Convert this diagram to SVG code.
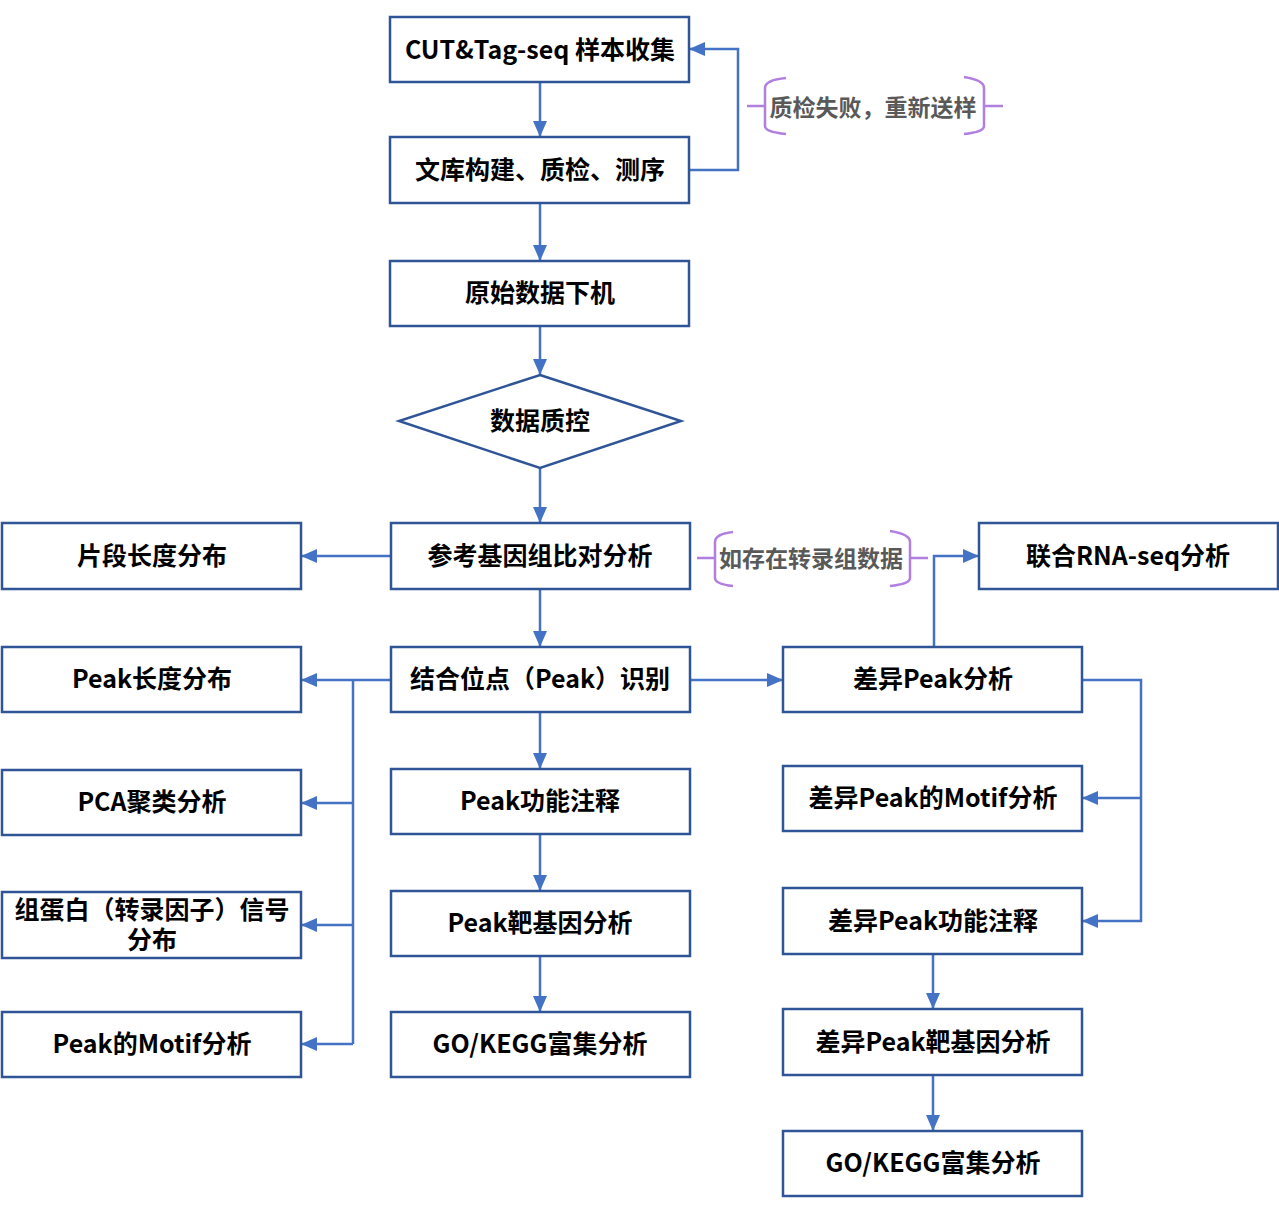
<svg xmlns="http://www.w3.org/2000/svg" width="1279" height="1213" viewBox="0 0 1279 1213">
<style>
.box{fill:#fff;stroke:#2F5597;stroke-width:2.5}
.t{font-family:"Noto Sans CJK SC","Noto Sans",sans-serif;font-weight:bold;font-size:25px;fill:#000;text-anchor:middle;dominant-baseline:central}
.c{fill:none;stroke:#4472C4;stroke-width:2.5}
.b{fill:none;stroke:#B07FE0;stroke-width:2.5}
.a{font-family:"Noto Sans CJK SC","Noto Sans",sans-serif;font-weight:bold;font-size:23px;fill:#595959;text-anchor:middle;dominant-baseline:central}
</style>
<defs>
<marker id="ar" markerWidth="16" markerHeight="14" refX="15" refY="7" orient="auto" markerUnits="userSpaceOnUse">
<path d="M0,0 L16,7 L0,14 Z" fill="#4472C4"/>
</marker>
</defs>
<rect width="1279" height="1213" fill="#fff"/>
<g id="connectors">
<path class="c" d="M540,82 V136" marker-end="url(#ar)"/>
<path class="c" d="M689,170 H738 V49 H690" marker-end="url(#ar)"/>
<path class="c" d="M540,203 V260" marker-end="url(#ar)"/>
<path class="c" d="M540,326 V374" marker-end="url(#ar)"/>
<path class="c" d="M540,468 V522" marker-end="url(#ar)"/>
<path class="c" d="M391,556 H302" marker-end="url(#ar)"/>
<path class="c" d="M540,589 V646" marker-end="url(#ar)"/>
<path class="c" d="M690,680 H782" marker-end="url(#ar)"/>
<path class="c" d="M934,647 V556 H978" marker-end="url(#ar)"/>
<path class="c" d="M391,680 H302" marker-end="url(#ar)"/>
<path class="c" d="M353,680 V1044"/>
<path class="c" d="M353,803 H302" marker-end="url(#ar)"/>
<path class="c" d="M353,925 H302" marker-end="url(#ar)"/>
<path class="c" d="M353,1044 H302" marker-end="url(#ar)"/>
<path class="c" d="M540,712 V768" marker-end="url(#ar)"/>
<path class="c" d="M540,834 V890" marker-end="url(#ar)"/>
<path class="c" d="M540,956 V1011" marker-end="url(#ar)"/>
<path class="c" d="M1082,680 H1141 V921 H1083" marker-end="url(#ar)"/>
<path class="c" d="M1141,798 H1083" marker-end="url(#ar)"/>
<path class="c" d="M933,954 V1008" marker-end="url(#ar)"/>
<path class="c" d="M933,1075 V1130" marker-end="url(#ar)"/>
</g>
<g id="note1">
<path class="b" d="M747,106 H765 M786,78 Q765,80 765,88 V126 Q765,132 786,134 M964,77 Q984,80 984,88 V126 Q984,132 964,134 M984,106 H1003"/>
<text class="a" x="873" y="106">质检失败，重新送样</text>
</g>
<g id="note2">
<path class="b" d="M697,558 H715 M733,532 Q715,534 715,542 V578 Q715,584 733,586 M890,531 Q910,534 910,542 V578 Q910,584 890,586 M910,558 H928"/>
<text class="a" x="811" y="557">如存在转录组数据</text>
</g>
<g id="n1"><rect class="box" x="390" y="17" width="299" height="65"/><text class="t" x="540" y="47.5">CUT&amp;Tag-seq 样本收集</text></g>
<g id="n2"><rect class="box" x="390" y="137" width="299" height="66"/><text class="t" x="540" y="167.5">文库构建、质检、测序</text></g>
<g id="n3"><rect class="box" x="390" y="261" width="299" height="65"/><text class="t" x="540" y="290.5">原始数据下机</text></g>
<g id="n4"><path class="box" d="M540,375 L681,421 L540,468 L399,421 Z"/><text class="t" x="540" y="418.5">数据质控</text></g>
<g id="n5"><rect class="box" x="391" y="523" width="299" height="66"/><text class="t" x="540" y="553.5">参考基因组比对分析</text></g>
<g id="n6"><rect class="box" x="2" y="523" width="299" height="66"/><text class="t" x="152" y="553.5">片段长度分布</text></g>
<g id="n7"><rect class="box" x="979" y="523" width="299" height="66"/><text class="t" x="1128" y="553.5">联合RNA-seq分析</text></g>
<g id="n8"><rect class="box" x="391" y="647" width="299" height="65"/><text class="t" x="540" y="676.5">结合位点（Peak）识别</text></g>
<g id="n9"><rect class="box" x="2" y="647" width="299" height="65"/><text class="t" x="152" y="676.5">Peak长度分布</text></g>
<g id="n10"><rect class="box" x="783" y="647" width="299" height="65"/><text class="t" x="933" y="676.5">差异Peak分析</text></g>
<g id="n11"><rect class="box" x="2" y="770" width="299" height="65"/><text class="t" x="152" y="799.5">PCA聚类分析</text></g>
<g id="n12"><rect class="box" x="391" y="769" width="299" height="65"/><text class="t" x="540" y="798.5">Peak功能注释</text></g>
<g id="n13"><rect class="box" x="783" y="766" width="299" height="65"/><text class="t" x="933" y="795.5">差异Peak的Motif分析</text></g>
<g id="n14"><rect class="box" x="2" y="892" width="299" height="66"/><text class="t" x="152" y="908">组蛋白（转录因子）信号</text><text class="t" x="152" y="938">分布</text></g>
<g id="n15"><rect class="box" x="391" y="891" width="299" height="65"/><text class="t" x="540" y="920.5">Peak靶基因分析</text></g>
<g id="n16"><rect class="box" x="783" y="888" width="299" height="66"/><text class="t" x="933" y="918.5">差异Peak功能注释</text></g>
<g id="n17"><rect class="box" x="2" y="1012" width="299" height="65"/><text class="t" x="152" y="1041.5">Peak的Motif分析</text></g>
<g id="n18"><rect class="box" x="391" y="1012" width="299" height="65"/><text class="t" x="540" y="1041.5">GO/KEGG富集分析</text></g>
<g id="n19"><rect class="box" x="783" y="1009" width="299" height="66"/><text class="t" x="933" y="1039.5">差异Peak靶基因分析</text></g>
<g id="n20"><rect class="box" x="783" y="1131" width="299" height="65"/><text class="t" x="933" y="1160.5">GO/KEGG富集分析</text></g>
</svg>
